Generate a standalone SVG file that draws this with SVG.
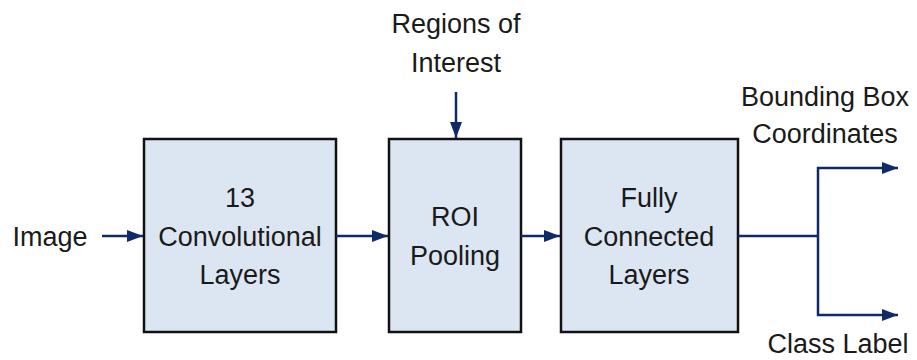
<svg xmlns="http://www.w3.org/2000/svg" width="917" height="360" viewBox="0 0 917 360">
<style>
.box{fill:#dce6f2;stroke:#111;stroke-width:2.5}
.t{font-family:"Liberation Sans",Arial,sans-serif;font-size:27px;fill:#1a1a1a;text-anchor:middle}
.c{fill:none;stroke:#0f2a66;stroke-width:2.5}
</style>
<defs>
<marker id="ah" markerWidth="16" markerHeight="12" refX="16" refY="6" orient="auto" markerUnits="userSpaceOnUse">
<path d="M0,0 L16,6 L0,12 Z" fill="#0f2a66"/>
</marker>
</defs>
<g id="conv">
<rect class="box" x="144" y="139" width="192" height="193"/>
<text class="t" x="240" y="207">13</text>
<text class="t" x="240" y="246">Convolutional</text>
<text class="t" x="240" y="284">Layers</text>
</g>
<g id="roi">
<rect class="box" x="389" y="139" width="132" height="193"/>
<text class="t" x="455" y="226">ROI</text>
<text class="t" x="455" y="265">Pooling</text>
</g>
<g id="fc">
<rect class="box" x="561" y="139" width="177" height="193"/>
<text class="t" x="649" y="207">Fully</text>
<text class="t" x="649" y="246">Connected</text>
<text class="t" x="649" y="284">Layers</text>
</g>
<g id="image"><text class="t" x="50" y="246">Image</text></g>
<g id="regions"><text class="t" x="456" y="33">Regions of</text><text class="t" x="456" y="72">Interest</text></g>
<g id="bbox"><text class="t" x="825" y="106">Bounding Box</text><text class="t" x="825" y="143">Coordinates</text></g>
<g id="cls"><text class="t" x="838" y="353">Class Label</text></g>
<g id="connectors">
<line class="c" x1="102" y1="236" x2="143" y2="236" marker-end="url(#ah)"/>
<line class="c" x1="336" y1="236" x2="388" y2="236" marker-end="url(#ah)"/>
<line class="c" x1="521" y1="236" x2="560" y2="236" marker-end="url(#ah)"/>
<line class="c" x1="456" y1="92" x2="456" y2="138" marker-end="url(#ah)"/>
<polyline class="c" points="738,236 818,236"/>
<polyline class="c" points="818,236 818,168 898,168" marker-end="url(#ah)"/>
<polyline class="c" points="818,236 818,315 898,315" marker-end="url(#ah)"/>
</g>
</svg>
